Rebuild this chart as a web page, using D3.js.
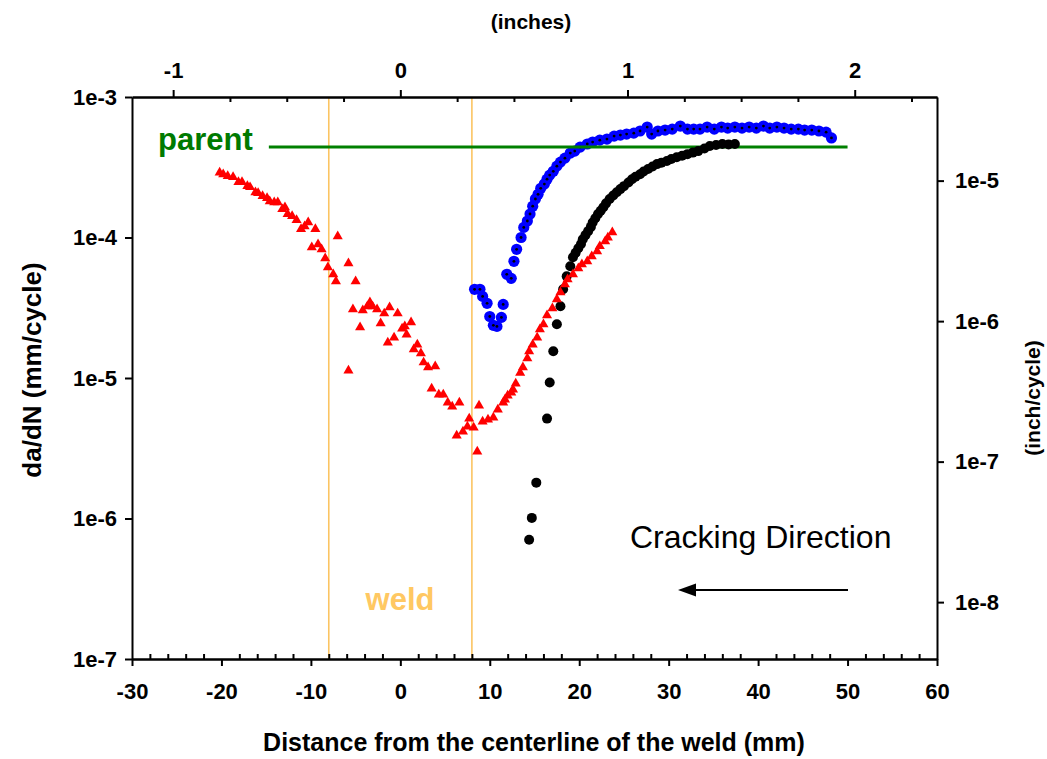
<!DOCTYPE html>
<html>
<head>
<meta charset="utf-8">
<script src="https://d3js.org/d3.v7.min.js"></script>
<style>
body { margin: 0; background: #fff; }
svg text { font-family: "Liberation Sans", Arial, sans-serif; }
.axis text { font-weight: bold; font-size: 22px; fill: #000; }
.axis path, .axis line { stroke: #000; stroke-width: 2; }
.title { font-weight: bold; fill: #000; }
</style>
</head>
<body>
<svg id="chart" width="1047" height="759"></svg>
<script>
// [distance from weld centerline (mm), da/dN (mm/cycle)]
var redPts = [
  [-20.2,2.90e-4],[-19.8,2.82e-4],[-19.3,2.74e-4],[-18.7,2.69e-4],[-18.1,2.48e-4],[-17.7,2.48e-4],
  [-17.1,2.32e-4],[-16.8,2.28e-4],[-16.2,2.10e-4],[-15.9,2.07e-4],[-15.4,1.97e-4],[-14.9,1.91e-4],
  [-14.6,1.81e-4],[-14.1,1.78e-4],[-13.7,1.78e-4],[-13.2,1.59e-4],[-12.9,1.64e-4],[-12.6,1.47e-4],
  [-12.1,1.42e-4],[-11.6,1.33e-4],[-11.1,1.15e-4],[-10.7,1.20e-4],[-10.3,1.28e-4],[-9.5,1.15e-4],
  [-9.9,8.51e-5],[-9.2,8.95e-5],[-8.8,8.24e-5],[-8.4,7.11e-5],[-8.1,6.14e-5],[-7.5,5.47e-5],
  [-7.2,4.88e-5],[-7.0,1.02e-4],[-5.8,6.55e-5],[-5.8,1.13e-5],[-5.3,3.08e-5],[-5.0,4.88e-5],
  [-4.5,2.29e-5],[-4.2,3.03e-5],[-3.7,3.23e-5],[-3.4,3.45e-5],[-3.1,3.23e-5],[-2.6,3.08e-5],
  [-2.2,2.45e-5],[-1.8,2.88e-5],[-1.4,1.79e-5],[-1.2,3.18e-5],[-0.7,1.94e-5],[-0.3,2.88e-5],
  [0.2,2.25e-5],[0.5,2.33e-5],[0.7,2.04e-5],[1.2,2.49e-5],[1.5,1.60e-5],[1.9,1.73e-5],
  [2.3,1.50e-5],[2.6,1.29e-5],[3.1,1.19e-5],[3.9,1.21e-5],[3.5,8.42e-6],[4.3,7.62e-6],
  [4.8,7.62e-6],[5.3,6.69e-6],[5.8,6.26e-6],[6.6,6.69e-6],[6.3,3.89e-6],[7.0,4.16e-6],
  [7.5,4.51e-6],[7.7,5.14e-6],[8.2,4.44e-6],[8.8,6.37e-6],[8.6,2.99e-6],[9.2,4.90e-6],
  [9.8,5.06e-6],[10.4,5.22e-6],[10.9,5.96e-6],[11.5,6.69e-6],[11.7,7.03e-6],[12.0,7.51e-6],
  [12.4,7.88e-6],[12.6,8.28e-6],[12.9,9.14e-6],[13.4,1.09e-5],[13.7,1.19e-5],[14.2,1.38e-5],
  [14.4,1.55e-5],[14.8,1.73e-5],[15.3,1.94e-5],[15.6,2.22e-5],[16.0,2.41e-5],[16.4,2.79e-5],
  [17.0,3.13e-5],[17.5,3.63e-5],[17.9,4.07e-5],[18.4,4.65e-5],[18.7,5.04e-5],[19.3,5.47e-5],
  [19.9,6.04e-5],[20.3,6.44e-5],[20.9,6.77e-5],[21.4,7.35e-5],[22.0,7.98e-5],[22.3,8.67e-5],
  [22.9,9.40e-5],[23.2,1.00e-4],[23.7,1.09e-4]
];
var blackPts = [
  [14.4,7.05e-7],[14.7,1.01e-6],[15.2,1.80e-6],[16.4,5.14e-6],[16.7,9.29e-6],[17.1,1.55e-5],
  [17.5,2.41e-5],[17.9,3.24e-5],[18.2,4.28e-5],[18.6,5.29e-5],[19.0,6.24e-5],[19.3,7.23e-5],
  [19.6,7.8e-5],[19.9,8.38e-5],[20.2,9.0e-5],[20.4,9.72e-5],[20.7,1.04e-4],[21.0,1.11e-4],
  [21.3,1.19e-4],[21.5,1.28e-4],[21.8,1.37e-4],[22.1,1.47e-4],[22.4,1.55e-4],[22.7,1.64e-4],
  [23.0,1.75e-4],[23.4,1.88e-4],[23.8,1.99e-4],[24.2,2.10e-4],[24.6,2.21e-4],[25.0,2.32e-4],
  [25.5,2.46e-4],[25.9,2.60e-4],[26.3,2.71e-4],[26.8,2.82e-4],[27.2,2.95e-4],[27.7,3.07e-4],
  [28.2,3.20e-4],[28.7,3.33e-4],[29.2,3.41e-4],[29.8,3.50e-4],[30.3,3.62e-4],[30.9,3.73e-4],
  [31.5,3.82e-4],[32.1,3.92e-4],[32.7,4.02e-4],[33.3,4.12e-4],[34.0,4.30e-4],[34.6,4.48e-4],
  [35.3,4.55e-4],[36.0,4.63e-4],[36.7,4.60e-4],[37.4,4.63e-4]
];
var bluePts = [
  [8.3,4.28e-5],[8.9,4.28e-5],[9.2,3.81e-5],[9.7,3.40e-5],[10.0,2.74e-5],[10.4,2.37e-5],
  [10.8,2.33e-5],[11.3,2.70e-5],[11.5,3.34e-5],[11.9,5.47e-5],[12.4,5.12e-5],[12.7,6.77e-5],
  [13.0,8.24e-5],[13.5,1.00e-4],[13.8,1.18e-4],[14.2,1.31e-4],[14.5,1.47e-4],[14.8,1.67e-4],
  [15.1,1.88e-4],[15.4,2.03e-4],[15.7,2.24e-4],[16.1,2.40e-4],[16.4,2.60e-4],[16.7,2.78e-4],
  [17.1,2.96e-4],[17.5,3.22e-4],[17.9,3.44e-4],[18.4,3.67e-4],[19.0,3.99e-4],[19.5,4.12e-4],
  [20.1,4.40e-4],[20.9,4.63e-4],[21.5,4.78e-4],[22.3,4.93e-4],[23.1,5.02e-4],[23.9,5.27e-4],
  [24.6,5.36e-4],[25.3,5.45e-4],[26.1,5.53e-4],[26.8,5.73e-4],[27.6,6.11e-4],[28.1,5.45e-4],
  [28.8,5.73e-4],[29.6,5.82e-4],[30.4,5.91e-4],[31.3,6.21e-4],[32.1,5.91e-4],[32.8,5.91e-4],
  [33.5,5.91e-4],[34.3,6.11e-4],[35.1,5.91e-4],[35.9,6.11e-4],[36.6,6.01e-4],[37.4,6.11e-4],
  [38.2,6.01e-4],[39.0,6.11e-4],[39.8,6.01e-4],[40.6,6.21e-4],[41.3,6.01e-4],[42.1,6.11e-4],
  [42.9,6.01e-4],[43.7,5.91e-4],[44.5,5.91e-4],[45.2,5.82e-4],[46.0,5.82e-4],[46.8,5.73e-4],
  [47.6,5.62e-4],[48.2,5.11e-4]
];
var parentRate = 4.4e-4, parentFrom = -14.7, parentTo = 50;
var weldEdges = [-8, 8];

var mmTicks = [-30, -20, -10, 0, 10, 20, 30, 40, 50, 60];
var inchTicks = [-1, 0, 1, 2];
var rateTicks = [1e-3, 1e-4, 1e-5, 1e-6, 1e-7];
var inchRateTicks = [1e-5, 1e-6, 1e-7, 1e-8];

var svg = d3.select("#chart");

var x = d3.scaleLinear().domain([-30, 60]).range([132, 937]);
var xIn = d3.scaleLinear().domain([-30 / 25.4, 60 / 25.4]).range([132, 937]);
var y = d3.scaleLog().domain([1e-7, 1e-3]).range([659, 97]);
var yIn = d3.scaleLog().domain([1e-7 / 25.4, 1e-3 / 25.4]).range([659, 97]);

var expFmt = function (d) { return "1e" + Math.round(Math.log10(d)); };

// weld zone
svg.selectAll("line.weld").data(weldEdges).enter().append("line")
    .attr("class", "weld")
    .attr("x1", function (d) { return x(d); })
    .attr("x2", function (d) { return x(d); })
    .attr("y1", y(1e-3)).attr("y2", y(1e-7))
    .style("stroke", "#FBC462").style("stroke-width", 1.6);

// minor ticks (inside)
svg.append("g").attr("class", "axis minor")
    .attr("transform", "translate(0,659)")
    .call(d3.axisBottom(x).tickValues(d3.range(-28, 60, 2).filter(function (d) { return d % 10 != 0; }))
        .tickSize(-5).tickSizeOuter(0).tickFormat(""));
svg.append("g").attr("class", "axis minor")
    .attr("transform", "translate(0,97)")
    .call(d3.axisTop(xIn).tickValues(d3.range(-1, 2.5, 0.25).filter(function (d) { return d % 1 != 0; }))
        .tickSize(-5).tickSizeOuter(0).tickFormat(""));

// main axes
svg.append("g").attr("class", "axis")
    .attr("transform", "translate(0,659)")
    .call(d3.axisBottom(x).tickValues(mmTicks).tickSize(7).tickSizeOuter(0).tickPadding(17));
svg.append("g").attr("class", "axis")
    .attr("transform", "translate(0,97)")
    .call(d3.axisTop(xIn).tickValues(inchTicks).tickSize(7).tickSizeOuter(0).tickPadding(12).tickFormat(d3.format("d")));
svg.append("g").attr("class", "axis")
    .attr("transform", "translate(132,0)")
    .call(d3.axisLeft(y).tickValues(rateTicks).tickSize(7).tickSizeOuter(0).tickPadding(8).tickFormat(expFmt));
svg.append("g").attr("class", "axis")
    .attr("transform", "translate(937,0)")
    .call(d3.axisRight(yIn).tickValues(inchRateTicks).tickSize(7).tickSizeOuter(0).tickPadding(11).tickFormat(expFmt));

svg.selectAll(".axis text").text(function () { return this.textContent.replace("\u2212", "-"); });

// series
svg.append("g").selectAll("circle").data(bluePts).enter().append("circle")
    .attr("cx", function (d) { return x(d[0]); })
    .attr("cy", function (d) { return y(d[1]); })
    .attr("r", 5.6).style("fill", "#0000FF");
svg.append("g").selectAll("circle").data(bluePts).enter().append("circle")
    .attr("cx", function (d) { return x(d[0]); })
    .attr("cy", function (d) { return y(d[1]); })
    .attr("r", 1.4).style("fill", "#000");

svg.append("line")
    .attr("x1", x(parentFrom)).attr("x2", x(parentTo))
    .attr("y1", y(parentRate)).attr("y2", y(parentRate))
    .style("stroke", "#008000").style("stroke-width", 3);

svg.append("g").selectAll("circle").data(blackPts).enter().append("circle")
    .attr("cx", function (d) { return x(d[0]); })
    .attr("cy", function (d) { return y(d[1]); })
    .attr("r", 5).style("fill", "#000");

var tri = d3.symbol().type(d3.symbolTriangle).size(44);
svg.append("g").selectAll("path").data(redPts).enter().append("path")
    .attr("d", tri)
    .attr("transform", function (d) { return "translate(" + x(d[0]) + "," + y(d[1]) + ")"; })
    .style("fill", "#FF0000");

// labels
svg.append("text").attr("x", 158).attr("y", 150)
    .style("font-weight", "bold").style("font-size", "31px").style("fill", "#007A00")
    .text("parent");
svg.append("text").attr("x", 400).attr("y", 610).attr("text-anchor", "middle")
    .style("font-weight", "bold").style("font-size", "31px").style("fill", "#FFC862")
    .text("weld");
svg.append("text").attr("x", 630).attr("y", 548)
    .style("font-size", "32px").style("fill", "#000")
    .text("Cracking Direction");

// cracking direction arrow
svg.append("line")
    .attr("x1", 848).attr("x2", 692).attr("y1", 590).attr("y2", 590)
    .style("stroke", "#000").style("stroke-width", 2);
svg.append("path")
    .attr("d", "M678,590 L696,583.5 L696,596.5 Z")
    .style("fill", "#000");

// axis titles
svg.append("text").attr("class", "title")
    .attr("x", 534).attr("y", 751).attr("text-anchor", "middle")
    .style("font-size", "25px")
    .text("Distance from the centerline of the weld (mm)");
svg.append("text").attr("class", "title")
    .attr("transform", "translate(41,370) rotate(-90)").attr("text-anchor", "middle")
    .style("font-size", "26px")
    .text("da/dN (mm/cycle)");
svg.append("text").attr("class", "title")
    .attr("transform", "translate(1040,398) rotate(-90)").attr("text-anchor", "middle")
    .style("font-size", "21px")
    .text("(inch/cycle)");
svg.append("text").attr("class", "title")
    .attr("x", 531).attr("y", 29).attr("text-anchor", "middle")
    .style("font-size", "21px")
    .text("(inches)");
</script>
</body>
</html>
